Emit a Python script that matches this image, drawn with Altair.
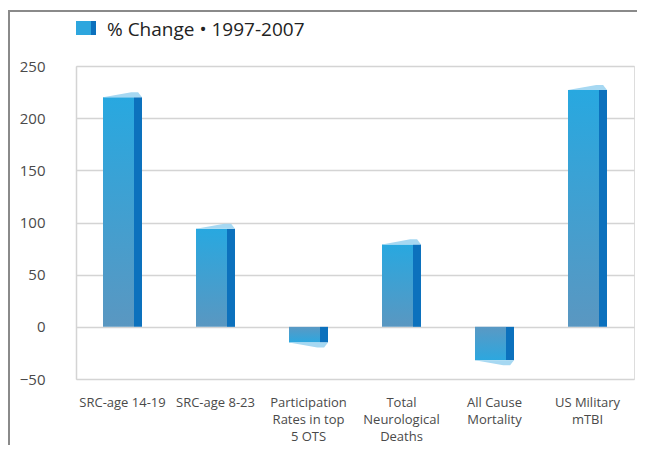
import altair as alt
import pandas as pd

categories = ["SRC-age 14-19", "SRC-age 8-23", "Participation|Rates in top|5 OTS",
              "Total|Neurological|Deaths", "All Cause|Mortality", "US Military|mTBI"]
values = [220, 94, -15, 79, -32, 227]
y_ticks = [-50, 0, 50, 100, 150, 200, 250]
legend_text = "% Change • 1997-2007"

df = pd.DataFrame({"cat": categories, "val": values})

FONT = "Open Sans"
TXT = "#4a4a4a"

x_enc = alt.X("cat:N", sort=categories, scale=alt.Scale(paddingInner=0, paddingOuter=0),
              axis=alt.Axis(title=None, labelExpr="split(datum.label, '|')", labelAngle=0,
                            labelFont=FONT, labelFontSize=13, labelColor=TXT, labelPadding=17,
                            labelLineHeight=17, ticks=False, domain=False, grid=False))
y_enc = alt.Y("val:Q", scale=alt.Scale(domain=[-50, 250], nice=False),
              axis=alt.Axis(title=None, values=y_ticks, labelFont=FONT, labelFontSize=15,
                            labelColor=TXT, labelPadding=31, ticks=False, domain=True,
                            domainColor="#d4d4d4", domainWidth=1.5,
                            gridColor="#d4d4d4", gridWidth=1.5))

pos_grad = alt.Gradient(gradient="linear", x1=0, x2=0, y1=0, y2=1,
                        stops=[alt.GradientStop(color="#28a8e0", offset=0),
                               alt.GradientStop(color="#5a97c1", offset=1)])
neg_grad = alt.Gradient(gradient="linear", x1=0, x2=0, y1=0, y2=1,
                        stops=[alt.GradientStop(color="#5a99c4", offset=0),
                               alt.GradientStop(color="#2ca7df", offset=1)])

base = alt.Chart(df)
front_pos = base.transform_filter("datum.val >= 0").mark_bar(size=31, xOffset=-4, color=pos_grad).encode(
    x=x_enc, y=y_enc, y2=alt.datum(0))
front_neg = base.transform_filter("datum.val < 0").mark_bar(size=31, xOffset=-4, color=neg_grad).encode(
    x=x_enc, y=y_enc, y2=alt.datum(0))
side = base.mark_bar(size=8, xOffset=15.5, color="#0c71bd").encode(x=x_enc, y=y_enc, y2=alt.datum(0))

cap_pos = base.transform_filter("datum.val >= 0").mark_point(
    shape="M -1 0 L 0.45 -0.26 L 0.8 -0.26 L 1 0 Z", size=1521, filled=True,
    color="#a6d8f2", opacity=1).encode(x=x_enc, y=y_enc)
cap_neg = base.transform_filter("datum.val < 0").mark_point(
    shape="M -1 0 L 0.45 0.26 L 0.8 0.26 L 1 0 Z", size=1521, filled=True,
    color="#a6d8f2", opacity=1).encode(x=x_enc, y=y_enc)

one = alt.Data(values=[{"a": 1}])
icon_front = alt.Chart(one).mark_rect(color="#2ea6de").encode(
    x=alt.value(0), x2=alt.value(15), y=alt.value(-45), y2=alt.value(-31))
icon_side = alt.Chart(one).mark_rect(color="#0c71bd").encode(
    x=alt.value(15), x2=alt.value(20), y=alt.value(-45), y2=alt.value(-31))
legend = alt.Chart(one).mark_text(align="left", baseline="alphabetic", font=FONT,
                                  fontSize=19, color="#222222", text=legend_text).encode(
    x=alt.value(31), y=alt.value(-30))

border_left = alt.Chart(one).mark_rule(color="#8a8a8a", strokeWidth=2).encode(
    x=alt.value(-67), y=alt.value(-55), y2=alt.value(400))
border_top = alt.Chart(one).mark_rule(color="#8a8a8a", strokeWidth=2).encode(
    x=alt.value(-68), x2=alt.value(600), y=alt.value(-55))

chart = alt.layer(front_pos, front_neg, side, cap_pos, cap_neg,
                  icon_front, icon_side, legend, border_left, border_top).properties(
    width=558, height=313,
    autosize=alt.AutoSizeParams(type="none"),
    padding={"left": 68, "top": 58, "right": 3, "bottom": 66},
).configure_view(stroke=None).configure(background="white")

chart.save("out.html", embed_options={"renderer": "svg", "actions": False})
